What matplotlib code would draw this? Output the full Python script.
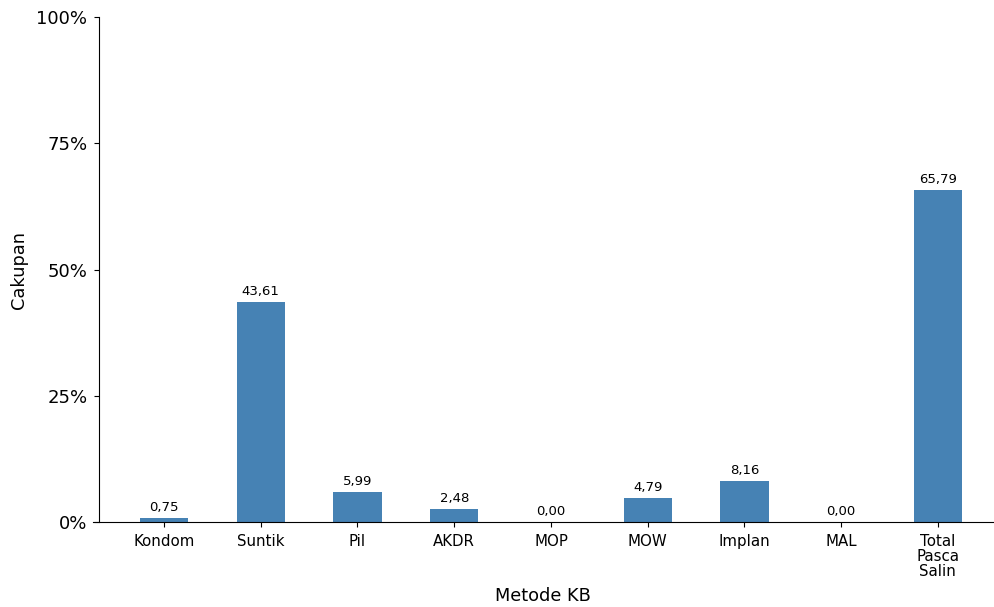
import matplotlib
matplotlib.use('Agg')
import matplotlib.pyplot as plt
from matplotlib.ticker import FuncFormatter

methods = ['Kondom', 'Suntik', 'Pil', 'AKDR', 'MOP', 'MOW', 'Implan', 'MAL', 'Total\nPasca\nSalin']
values = [0.75, 43.61, 5.99, 2.48, 0.00, 4.79, 8.16, 0.00, 65.79]

fig = plt.figure(figsize=(9.95, 6.07), dpi=100)
ax = fig.add_axes([0.0935, 0.140, 0.9045, 0.832])

x = list(range(len(methods)))
bars = ax.bar(x, values, width=0.5, color='steelblue')
ax.bar_label(bars, labels=[f'{v:.2f}'.replace('.', ',') for v in values],
             padding=3, fontsize=9.5)

ax.set_xlim(-0.734, 8.57)
ax.set_ylim(0, 100)
ax.set_yticks([0, 25, 50, 75, 100])
ax.yaxis.set_major_formatter(FuncFormatter(lambda v, p: f'{v:.0f}%'))
ax.set_xticks(x)
ax.set_xticklabels(methods, fontsize=10.8, linespacing=1.0)
ax.tick_params(axis='x', pad=5)
ax.tick_params(axis='y', labelsize=13, pad=5)

ax.spines['top'].set_visible(False)
ax.spines['right'].set_visible(False)
ax.spines['left'].set_position(('axes', 0.0067))

ax.set_xlabel('Metode KB', fontsize=12.8, labelpad=6)
ax.set_ylabel('Cakupan', fontsize=12.8, labelpad=6)

plt.savefig('out.png', dpi=100)
